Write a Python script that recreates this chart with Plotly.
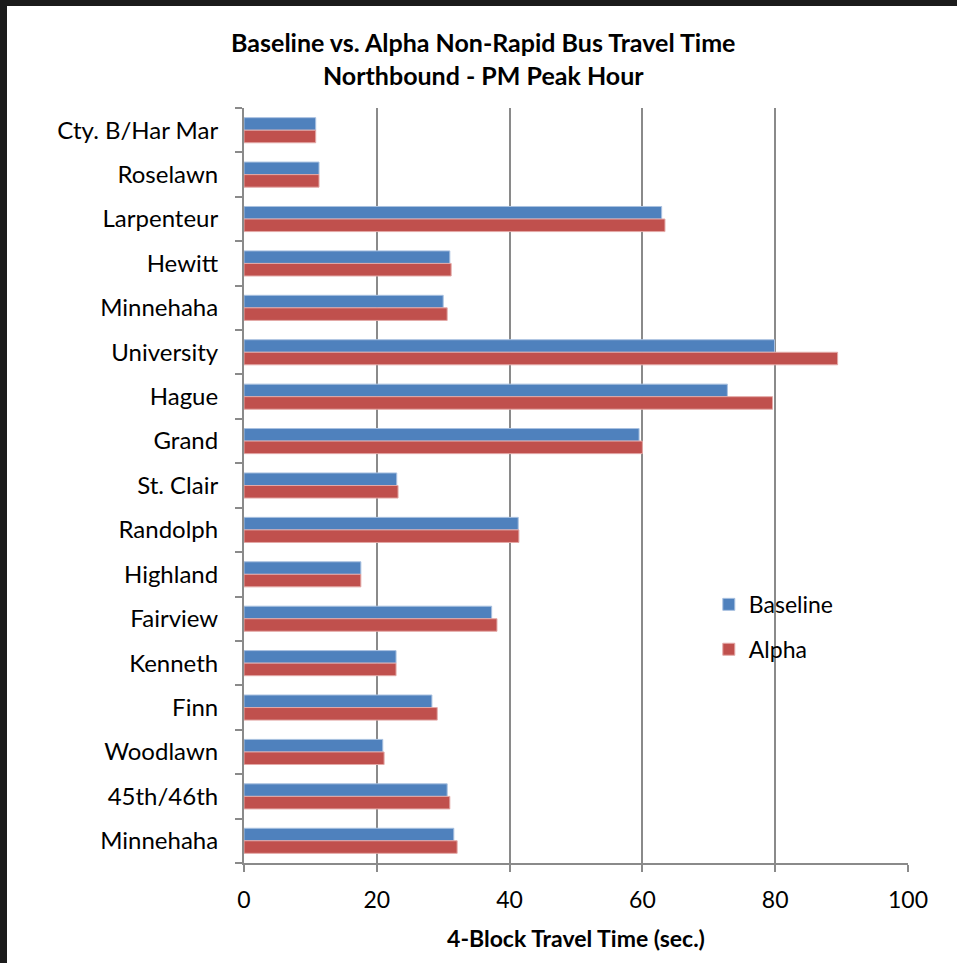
import plotly.graph_objects as go

stations = ["Cty. B/Har Mar", "Roselawn", "Larpenteur", "Hewitt", "Minnehaha",
            "University", "Hague", "Grand", "St. Clair", "Randolph", "Highland",
            "Fairview", "Kenneth", "Finn", "Woodlawn", "45th/46th", "Minnehaha"]
baseline = [10.8, 11.3, 62.9, 31.0, 30.0, 79.9, 72.8, 59.5, 23.0, 41.3, 17.6,
            37.3, 22.9, 28.3, 20.9, 30.6, 31.6]
alpha = [10.8, 11.3, 63.4, 31.2, 30.6, 89.4, 79.6, 60.0, 23.2, 41.4, 17.6,
         38.1, 22.9, 29.1, 21.1, 31.0, 32.1]
x_ticks = [0, 20, 40, 60, 80, 100]

pos = list(range(len(stations)))
FONT = "Lato"
GRID = "#8a8a8a"
FS = 23

fig = go.Figure()
fig.add_trace(go.Bar(y=pos, x=baseline, orientation="h", name="Baseline",
                     marker=dict(color="#4F81BD", line=dict(color="#a9c1e0", width=1)),
                     legendgroup="a"))
fig.add_trace(go.Bar(y=pos, x=alpha, orientation="h", name="Alpha",
                     marker=dict(color="#C0504D", line=dict(color="#e3a9a7", width=1)),
                     legendgroup="b"))

fig.update_layout(
    width=957, height=963,
    margin=dict(l=244, r=49, t=108, b=100),
    paper_bgcolor="white", plot_bgcolor="white",
    barmode="group", bargap=0.435, bargroupgap=0,
    font=dict(family=FONT, color="#000000", size=FS),
    title=dict(text="<b>Baseline vs. Alpha Non-Rapid Bus Travel Time<br>Northbound - PM Peak Hour</b>",
               x=0.505, xref="container", xanchor="center", y=0.946, yanchor="top",
               font=dict(family=FONT, size=25)),
    legend=dict(x=0.700, y=0.371, xanchor="left", yanchor="top",
                font=dict(family=FONT, size=FS), bgcolor="rgba(0,0,0,0)",
                traceorder="grouped", tracegroupgap=12, itemwidth=30),
    showlegend=True,
)
fig.update_xaxes(range=[0, 100], tickvals=x_ticks, showgrid=True, gridcolor=GRID, gridwidth=2,
                 showline=True, linecolor=GRID, linewidth=2, ticks="outside", ticklen=7,
                 tickcolor=GRID, tickwidth=2, zeroline=False, ticklabelstandoff=8,
                 tickfont=dict(family=FONT, size=FS),
                 title=dict(text="<b>4-Block Travel Time (sec.)</b>", font=dict(family=FONT, size=FS), standoff=19))
fig.update_yaxes(range=[len(stations) - 0.5, -0.5], tickvals=pos, ticktext=stations,
                 showgrid=False, showline=True, linecolor=GRID, linewidth=2,
                 ticks="", ticklabelstandoff=19,
                 tickfont=dict(family=FONT, size=24), zeroline=False,
                 minor=dict(ticks="outside", ticklen=7, tickcolor=GRID, tickwidth=2,
                            tick0=0.5, dtick=1, showgrid=False))

# dark frame edges
fig.add_shape(type="rect", xref="paper", yref="paper", x0=-0.40, x1=(7 - 244) / 664,
              y0=-0.2, y1=1.2, fillcolor="#1b1b1b", line=dict(width=0), layer="below")
fig.add_shape(type="rect", xref="paper", yref="paper", x0=-0.40, x1=1.2,
              y0=(863 - 6) / 755, y1=1.2, fillcolor="#1b1b1b", line=dict(width=0), layer="below")

fig.write_html("out.html")
